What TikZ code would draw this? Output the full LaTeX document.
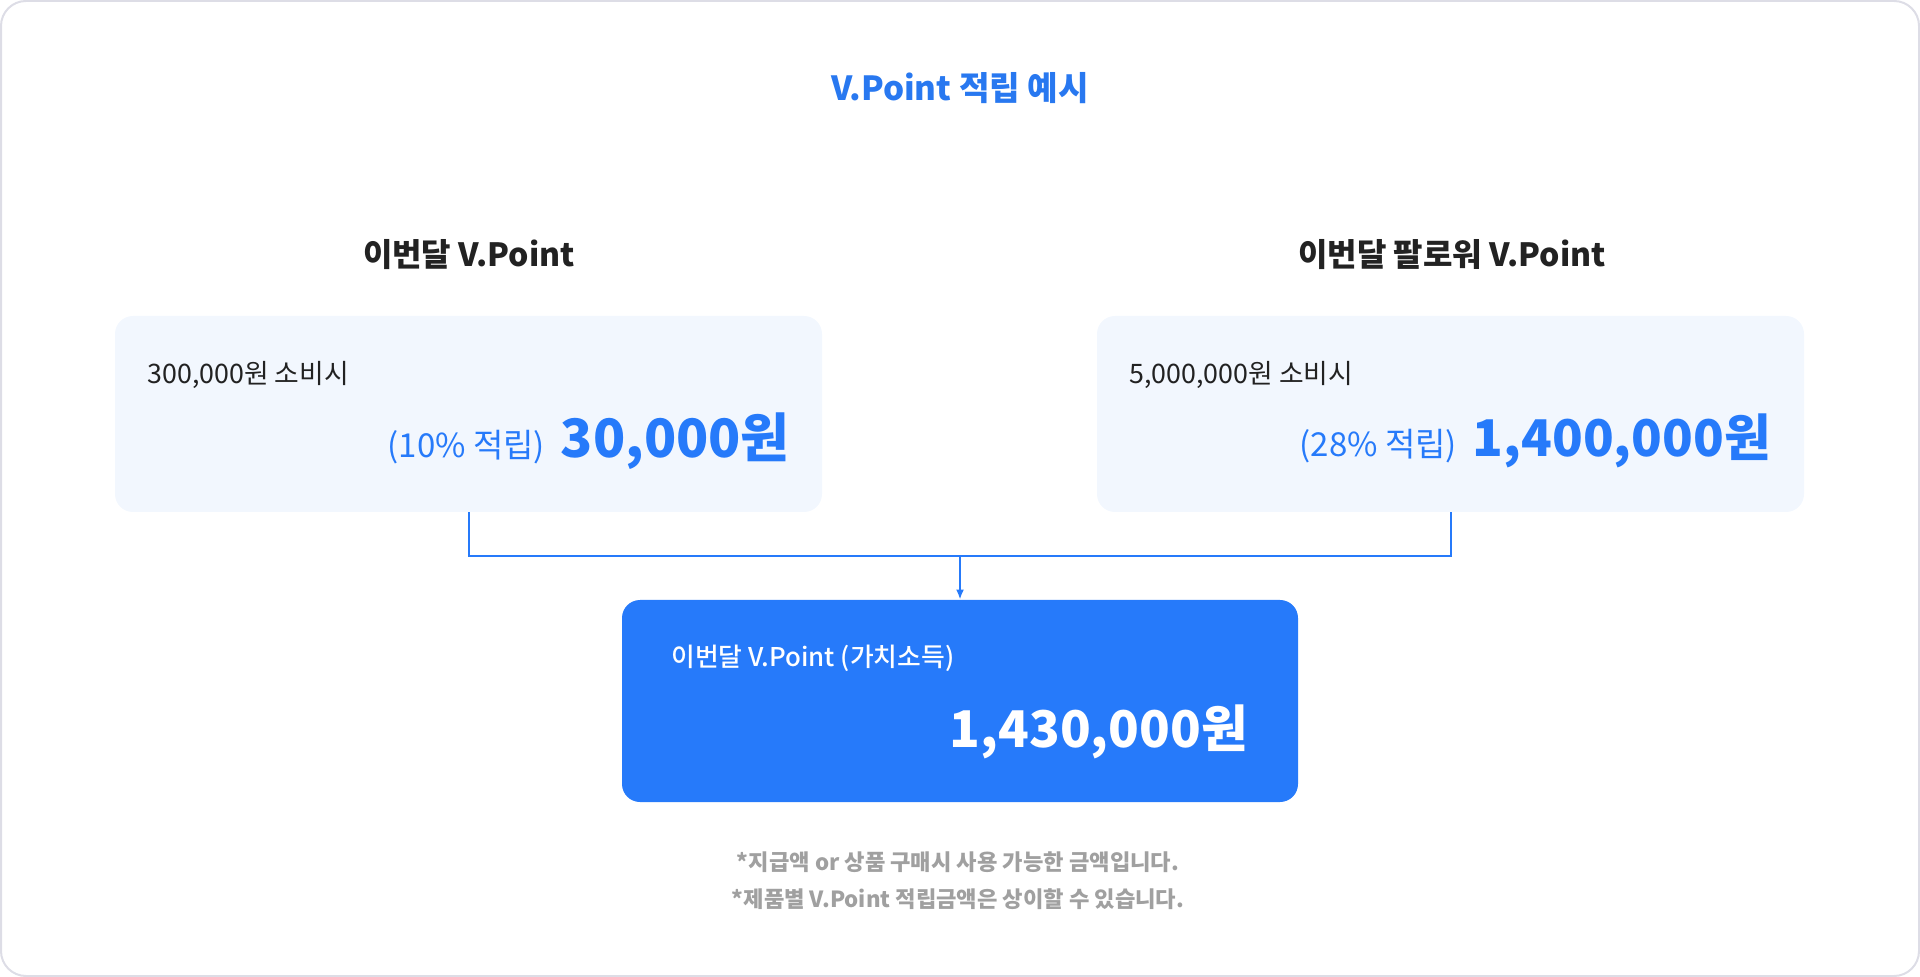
\documentclass[tikz,border=0pt]{standalone}
\usepackage{fontspec}
\setmainfont{Noto Sans CJK KR}
\newfontfamily\krmed{Noto Sans CJK KR Medium}
\usetikzlibrary{arrows.meta}
\definecolor{vblue}{RGB}{38,122,250}
\definecolor{vtitle}{RGB}{40,120,240}
\definecolor{vpale}{RGB}{242,247,254}
\definecolor{vdark}{RGB}{34,34,34}
\definecolor{vgray}{RGB}{160,160,160}
\definecolor{vframe}{RGB}{221,221,230}
\begin{document}
\begin{tikzpicture}[x=0.5pt,y=0.5pt,yscale=-1,xscale=1,
  palebox/.style={fill=vpale,draw=none,rounded corners=9pt,minimum width=353.5pt,minimum height=98pt,inner sep=0pt},
  bluebox/.style={fill=vblue,draw=none,rounded corners=9pt,minimum width=338pt,minimum height=101pt,inner sep=0pt},
  txt/.style={inner sep=0pt},
  link/.style={draw=vblue,line width=1pt}]
 \useasboundingbox (0,0) rectangle (1920,977);

 %Shape: Rectangle (frame)
 \draw [color=vframe,line width=1pt,rounded corners=12.5pt] (1,1) rectangle (1919,976) ;

 % Text Node
 \node [txt,font=\fontsize{16.6}{20}\selectfont\bfseries,color=vtitle] (title) at (960,88) {V.Point 적립 예시};
 % Text Node
 \node [txt,font=\fontsize{16}{20}\selectfont\bfseries,color=vdark] (headL) at (469,255) {이번달 V.Point};
 % Text Node
 \node [txt,font=\fontsize{16}{20}\selectfont\bfseries,color=vdark] (headR) at (1452,255) {이번달 팔로워 V.Point};

 %Shape: Rectangle
 \node [palebox] (boxL) at (468.5,414) {};
 %Shape: Rectangle
 \node [palebox] (boxR) at (1450.5,414) {};
 %Shape: Rectangle
 \node [bluebox] (boxT) at (960,701) {};

 % Text Node
 \node [txt,anchor=west,font=\fontsize{13.4}{16}\selectfont,color=vdark] (spendL) at (147,375) {300,000원 소비시};
 % Text Node
 \node [txt,anchor=east,font=\fontsize{26.5}{32}\selectfont\bfseries,color=vblue] (amountL) at (790,441) {30,000원};
 % Text Node
 \node [txt,anchor=base east,font=\fontsize{16.5}{20}\selectfont,color=vblue] (rateL) at ([xshift=-7.5pt]amountL.base west) {(10\% 적립)};

 % Text Node
 \node [txt,anchor=west,font=\fontsize{13.4}{16}\selectfont,color=vdark] (spendR) at (1129,375) {5,000,000원 소비시};
 % Text Node
 \node [txt,anchor=east,font=\fontsize{25.3}{32}\selectfont\bfseries,color=vblue] (amountR) at (1771,441) {1,400,000원};
 % Text Node
 \node [txt,anchor=base east,font=\fontsize{16.5}{20}\selectfont,color=vblue] (rateR) at ([xshift=-7.5pt]amountR.base west) {(28\% 적립)};

 % Text Node
 \node [txt,anchor=west,font=\fontsize{12.9}{15}\krmed,color=white] (totalLabel) at (671,658) {이번달 V.Point (가치소득)};
 % Text Node
 \node [txt,anchor=east,font=\fontsize{25.3}{32}\selectfont\bfseries,color=white] (totalAmount) at (1248,732) {1,430,000원};

 % Text Node
 \node [txt,font=\fontsize{11.1}{14}\selectfont\bfseries,color=vgray] (note1) at (958,862) {*지급액 or 상품 구매시 사용 가능한 금액입니다.};
 % Text Node
 \node [txt,font=\fontsize{11.1}{14}\selectfont\bfseries,color=vgray] (note2) at (958,899) {*제품별 V.Point 적립금액은 상이할 수 있습니다.};

 %Straight Lines
 \coordinate (joint) at (960,556) ;
 \draw [link] (boxL.south) |- (joint) ;
 \draw [link] (boxR.south) |- (joint) ;
 \draw [link,-{Latex[length=5pt,width=4pt]}] (joint) -- (boxT.north) ;

\end{tikzpicture}
\end{document}
